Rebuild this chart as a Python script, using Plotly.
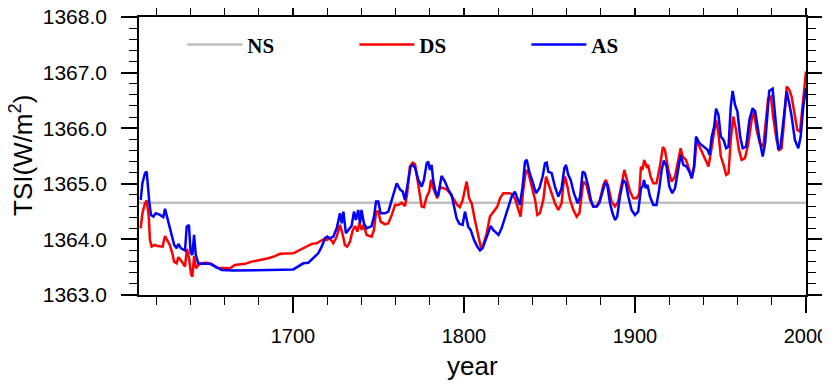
import plotly.graph_objects as go

# ---- data ----
ns_year = [1610, 2000]
ns_tsi = [1364.66, 1364.66]

ds_year = [1611, 1612, 1613.5, 1614.5, 1615.7, 1616.4, 1617.4, 1619, 1621, 1623.8, 1625.2, 1626.5, 1628,
           1629.5, 1630.5, 1632, 1633, 1634.6, 1636.9, 1638.0, 1639.3, 1640.4, 1641.2, 1642.2, 1643.3, 1644.7,
           1646.7, 1649.6, 1652.5, 1655.4, 1659.3, 1663.2, 1666.1, 1672, 1675.9, 1680.7, 1685.6, 1689.5, 1692.4,
           1700.2, 1704.1, 1708, 1711, 1713.9, 1716.8, 1718.8, 1719.7, 1721.6, 1723.6, 1725.6, 1727.5, 1729,
           1730.4, 1731.7, 1733.4, 1735, 1736.4, 1737.7, 1738.9, 1740.2, 1741.2, 1743.1, 1746, 1747.4, 1748.6,
           1749.9, 1751.3, 1753.8, 1755.8, 1757.8, 1759.7, 1761.7, 1763.5, 1765.5, 1766.7, 1768.4, 1770, 1771.4,
           1773.3, 1775.3, 1776.6, 1778.2, 1779.7, 1780.7, 1781.7, 1783, 1784.4, 1786, 1787.9, 1789.9, 1791.8,
           1793.8, 1796.1, 1797.6, 1799.2, 1800.6, 1801.6, 1803, 1804.5, 1806.4, 1808.4, 1810, 1811.3, 1813.3,
           1815.2, 1817.1, 1819.5, 1821.1, 1823, 1826, 1827.9, 1829.8, 1831.8, 1833.1, 1834.7, 1836.3, 1837.7,
           1839.6, 1841.6, 1842.9, 1844.4, 1846.4, 1848, 1849.3, 1851.3, 1853.2, 1855.2, 1857.1, 1858.1, 1859.1,
           1860.5, 1862, 1864, 1865.9, 1867.5, 1868.8, 1869.8, 1871.7, 1873.7, 1875.6, 1877.6, 1879.5, 1881.5,
           1883, 1884.4, 1886.3, 1888.3, 1890.2, 1892.2, 1893.8, 1895.1, 1897.1, 1899, 1901, 1902.5, 1903.5,
           1904.4, 1905.4, 1906.8, 1907.7, 1909.1, 1910.7, 1912.6, 1914.5, 1916.3, 1917.5, 1919.5, 1921.4, 1923.4,
           1925.3, 1926.7, 1927.9, 1929.8, 1931.8, 1933.2, 1934.7, 1936.1, 1937.7, 1939, 1941, 1943, 1944.3,
           1945.9, 1947.4, 1948.8, 1950.2, 1951.8, 1953.3, 1954.7, 1956, 1957.5, 1959.1, 1960.8, 1962.4, 1964.3,
           1966.3, 1968.2, 1969.6, 1971.1, 1973, 1975, 1976.5, 1977.9, 1979.5, 1980.8, 1982.8, 1984.4, 1985.7,
           1987.1, 1988.7, 1990.2, 1991.6, 1993.5, 1994.9, 1996.5, 1998, 2000]
ds_tsi = [1364.20, 1364.47, 1364.65, 1364.70, 1364.41, 1363.99, 1363.87, 1363.90, 1363.88, 1363.87, 1364.06,
          1363.99, 1363.90, 1363.75, 1363.60, 1363.57, 1363.68, 1363.62, 1363.51, 1363.83, 1363.66, 1363.38,
          1363.33, 1363.70, 1363.48, 1363.54, 1363.57, 1363.58, 1363.56, 1363.49, 1363.48, 1363.48, 1363.54,
          1363.56, 1363.60, 1363.63, 1363.66, 1363.70, 1363.74, 1363.75, 1363.81, 1363.86, 1363.92, 1363.93,
          1363.99, 1364.02, 1363.99, 1364.02, 1363.93, 1364.05, 1364.26, 1364.10, 1363.90, 1363.87, 1363.96,
          1364.17, 1364.24, 1364.14, 1364.29, 1364.17, 1364.26, 1364.08, 1364.05, 1364.17, 1364.50, 1364.50,
          1364.32, 1364.27, 1364.29, 1364.44, 1364.62, 1364.62, 1364.66, 1364.60, 1364.80, 1365.31, 1365.38,
          1365.35, 1364.98, 1364.59, 1364.58, 1364.77, 1364.86, 1365.07, 1364.95, 1364.83, 1364.74, 1364.94,
          1364.92, 1364.90, 1364.83, 1364.74, 1364.62, 1364.58, 1364.70, 1364.90, 1365.04, 1364.74, 1364.65,
          1364.35, 1364.05, 1363.84, 1363.90, 1364.11, 1364.41, 1364.50, 1364.59, 1364.74, 1364.83, 1364.83,
          1364.82, 1364.74, 1364.53, 1364.41, 1364.89, 1365.25, 1365.19, 1364.95, 1364.71, 1364.44, 1364.47,
          1364.71, 1365.13, 1365.01, 1364.83, 1364.65, 1364.53, 1364.65, 1364.98, 1365.13, 1364.95, 1364.71,
          1364.53, 1364.41, 1364.47, 1364.77, 1365.04, 1364.98, 1364.71, 1364.59, 1364.59, 1364.71, 1364.98,
          1365.07, 1364.95, 1364.68, 1364.59, 1364.68, 1365.01, 1365.25, 1365.10, 1364.86, 1364.74, 1364.74,
          1364.83, 1365.31, 1365.25, 1365.43, 1365.31, 1365.34, 1365.13, 1365.01, 1365.01, 1365.30, 1365.66,
          1365.61, 1365.25, 1365.04, 1365.13, 1365.43, 1365.64, 1365.49, 1365.43, 1365.25, 1365.10, 1365.31,
          1365.79, 1365.67, 1365.58, 1365.43, 1365.31, 1365.55, 1365.91, 1366.15, 1365.91, 1365.49, 1365.34,
          1365.16, 1365.19, 1365.79, 1366.21, 1365.97, 1365.61, 1365.43, 1365.46, 1365.73, 1366.15, 1366.30,
          1365.97, 1365.73, 1365.67, 1366.09, 1366.54, 1366.57, 1366.21, 1365.79, 1365.61, 1365.64, 1366.09,
          1366.75, 1366.69, 1366.57, 1366.18, 1365.97, 1365.94, 1366.39, 1367.02]

as_year = [1611, 1612, 1613.5, 1614.5, 1616, 1617, 1618.4, 1619.8, 1622.3, 1624.2, 1625.2, 1626.5, 1628,
           1629.5, 1630.6, 1632, 1633, 1634.6, 1636.9, 1637.9, 1639.2, 1640.2, 1641.2, 1642.2, 1643.2, 1644.7,
           1646.7, 1651.5, 1652.9, 1655.4, 1658.4, 1665, 1675, 1686.6, 1700.2, 1703.1, 1706.1, 1709, 1711.9,
           1714.8, 1716.8, 1718.8, 1720.1, 1721.6, 1723.6, 1725.6, 1727.5, 1728.5, 1729.5, 1731, 1732.4, 1734.3,
           1735.7, 1736.8, 1738.2, 1739.2, 1740.1, 1741.5, 1743.1, 1746, 1747.4, 1748.6, 1749.9, 1751.3, 1753.8,
           1755.8, 1757.8, 1759.7, 1760.7, 1762.6, 1764.2, 1765.5, 1766.9, 1768.8, 1770, 1771.4, 1773.3, 1775.3,
           1776.6, 1778.2, 1779.1, 1780.1, 1781.1, 1782.1, 1783.6, 1784.8, 1786, 1786.9, 1788.9, 1790.9, 1792.8,
           1794.2, 1795.7, 1797.3, 1799.2, 1800.6, 1801.6, 1802.5, 1803.9, 1805.9, 1807.8, 1809.4, 1810.9,
           1812.9, 1814.2, 1815.6, 1817.1, 1819.1, 1820.2, 1822, 1824, 1825.9, 1827.9, 1829.8, 1831.2, 1832.7,
           1834.3, 1835.7, 1836.7, 1838.2, 1840.2, 1842.1, 1844.1, 1846, 1847.4, 1848.4, 1849.3, 1851.3, 1853.2,
           1855.2, 1857.1, 1858.7, 1859.7, 1861, 1862.4, 1864.3, 1866.5, 1867.9, 1869.4, 1870.7, 1872.7, 1874.2,
           1875.6, 1877.6, 1879.1, 1881.1, 1882.5, 1883.8, 1885.4, 1886.9, 1888.3, 1889.6, 1891.2, 1893.2,
           1894.7, 1896.1, 1898, 1900, 1901.9, 1903.5, 1904.4, 1905.3, 1906.3, 1907.3, 1908.8, 1910.7, 1912.6,
           1914.1, 1915.6, 1916.9, 1918.5, 1920.1, 1921.8, 1923.4, 1925.3, 1926.7, 1928.3, 1930.2, 1932.2,
           1933.2, 1934.5, 1935.7, 1937.7, 1940, 1942.4, 1943.6, 1944.9, 1946.3, 1947.4, 1948.8, 1950.2, 1951.8,
           1953.3, 1954.7, 1956, 1957.1, 1958.5, 1959.9, 1961.5, 1963, 1965, 1966.9, 1968.8, 1970.3, 1971.6,
           1973.2, 1974.7, 1976.1, 1977.5, 1978.5, 1980.5, 1981.9, 1983.8, 1985.1, 1986.7, 1988.7, 1990.2,
           1991.6, 1993.5, 1995.5, 1996.9, 1998.4, 2000]
as_tsi = [1364.71, 1365.01, 1365.19, 1365.22, 1364.68, 1364.44, 1364.41, 1364.47, 1364.44, 1364.40, 1364.55,
          1364.40, 1364.23, 1364.05, 1363.90, 1363.84, 1363.92, 1363.84, 1363.80, 1364.23, 1364.26, 1363.75,
          1363.72, 1364.08, 1363.72, 1363.57, 1363.56, 1363.56, 1363.54, 1363.49, 1363.45, 1363.44, 1363.44,
          1363.45, 1363.46, 1363.51, 1363.57, 1363.58, 1363.66, 1363.75, 1363.87, 1364.02, 1364.05, 1364.02,
          1364.05, 1364.20, 1364.47, 1364.29, 1364.50, 1364.11, 1364.17, 1364.24, 1364.50, 1364.35, 1364.53,
          1364.29, 1364.53, 1364.29, 1364.20, 1364.24, 1364.41, 1364.68, 1364.68, 1364.47, 1364.47, 1364.50,
          1364.71, 1364.89, 1365.01, 1364.90, 1364.86, 1364.71, 1364.95, 1365.31, 1365.34, 1365.29, 1365.07,
          1364.95, 1365.07, 1365.37, 1365.40, 1365.25, 1365.34, 1365.04, 1364.83, 1364.77, 1364.98, 1365.14,
          1365.04, 1364.89, 1364.80, 1364.56, 1364.38, 1364.28, 1364.26, 1364.50, 1364.38, 1364.23, 1364.17,
          1363.99, 1363.87, 1363.80, 1363.84, 1364.02, 1364.14, 1364.24, 1364.17, 1364.12, 1364.08, 1364.20,
          1364.38, 1364.59, 1364.77, 1364.86, 1364.74, 1364.62, 1364.95, 1365.40, 1365.43, 1365.22, 1365.03,
          1364.83, 1364.92, 1365.13, 1365.37, 1365.38, 1365.22, 1365.19, 1364.95, 1364.77, 1364.92, 1365.28,
          1365.34, 1365.16, 1365.07, 1364.83, 1364.65, 1364.77, 1365.22, 1365.19, 1364.95, 1364.71, 1364.59,
          1364.59, 1364.65, 1364.89, 1365.01, 1364.98, 1364.65, 1364.47, 1364.35, 1364.41, 1364.77, 1365.07,
          1365.01, 1364.77, 1364.53, 1364.44, 1364.50, 1364.92, 1364.95, 1365.07, 1364.92, 1364.98, 1364.77,
          1364.62, 1364.62, 1364.89, 1365.25, 1365.42, 1365.31, 1364.95, 1364.83, 1364.92, 1365.31, 1365.52,
          1365.34, 1365.31, 1365.19, 1365.10, 1365.31, 1365.85, 1365.73, 1365.67, 1365.61, 1365.52, 1365.85,
          1366.03, 1366.35, 1366.24, 1365.85, 1365.79, 1365.64, 1365.67, 1366.39, 1366.67, 1366.42, 1366.30,
          1365.85, 1365.64, 1365.67, 1366.15, 1366.36, 1366.30, 1366.00, 1365.73, 1365.49, 1365.73, 1366.27,
          1366.67, 1366.71, 1366.27, 1365.61, 1365.67, 1366.09, 1366.66, 1366.45, 1366.21, 1365.79, 1365.64,
          1365.85, 1366.39, 1366.72]

x_ticks = [1700, 1800, 1900, 2000]
y_ticks = [1363, 1364, 1365, 1366, 1367, 1368]
y_ticklabels = ["1363.0", "1364.0", "1365.0", "1366.0", "1367.0", "1368.0"]
y_title = "TSI(W/m<sup>2</sup>)"
x_title = "year"

fig = go.Figure()
fig.add_trace(go.Scatter(x=ns_year, y=ns_tsi, mode="lines", name="NS",
                         line=dict(color="#BEBEBE", width=2.5)))
fig.add_trace(go.Scatter(x=ds_year, y=ds_tsi, mode="lines", name="DS",
                         line=dict(color="#FF0000", width=2.5)))
fig.add_trace(go.Scatter(x=as_year, y=as_tsi, mode="lines", name="AS",
                         line=dict(color="#0000FF", width=2.5)))

sans = "Liberation Sans, Arial, sans-serif"
pad = "\u00a0\u2009"  # keeps the y tick labels clear of the long ticks
fig.update_layout(
    width=822, height=375,
    margin=dict(l=131, r=24, t=9, b=88),
    paper_bgcolor="white", plot_bgcolor="white",
    showlegend=True,
    legend=dict(orientation="h", x=0.065, y=0.9, xanchor="left", yanchor="middle",
                bgcolor="rgba(0,0,0,0)", entrywidth=102, entrywidthmode="pixels",
                itemwidth=55,
                font=dict(family="Liberation Serif, Times New Roman, serif", size=21, color="black",
                          weight="bold")),
    xaxis=dict(range=[1610, 2000], tickvals=x_ticks, ticktext=[str(v) for v in x_ticks],
               automargin=False,
               showgrid=False, zeroline=False, showline=True, linecolor="black", linewidth=1.5,
               mirror="ticks", ticks="outside", ticklen=16, tickwidth=1.5, tickcolor="black",
               ticklabelstandoff=6,
               minor=dict(dtick=20, tick0=1600, ticks="outside", ticklen=8, tickwidth=1, tickcolor="black"),
               tickfont=dict(family=sans, size=20, color="black")),
    yaxis=dict(range=[1363, 1368], tickvals=y_ticks, ticktext=[t + pad for t in y_ticklabels],
               automargin=False, ticklabeloverflow="allow",
               showgrid=False, zeroline=False, showline=True, linecolor="black", linewidth=1.5,
               mirror="ticks", ticks="outside", ticklen=16, tickwidth=1.5, tickcolor="black",
               minor=dict(dtick=0.2, tick0=1363, ticks="outside", ticklen=8, tickwidth=1, tickcolor="black"),
               tickfont=dict(family=sans, size=21, color="black")),
    annotations=[
        dict(text=y_title, xref="paper", yref="paper", x=0, y=0.5, xanchor="center", yanchor="middle",
             xshift=-118, textangle=-90, showarrow=False,
             font=dict(family=sans, size=26, color="black")),
        dict(text=x_title, xref="paper", yref="paper", x=0.5, y=0, xanchor="center", yanchor="middle",
             yshift=-71, showarrow=False,
             font=dict(family=sans, size=26, color="black")),
    ],
)

fig.write_html("out.html")
